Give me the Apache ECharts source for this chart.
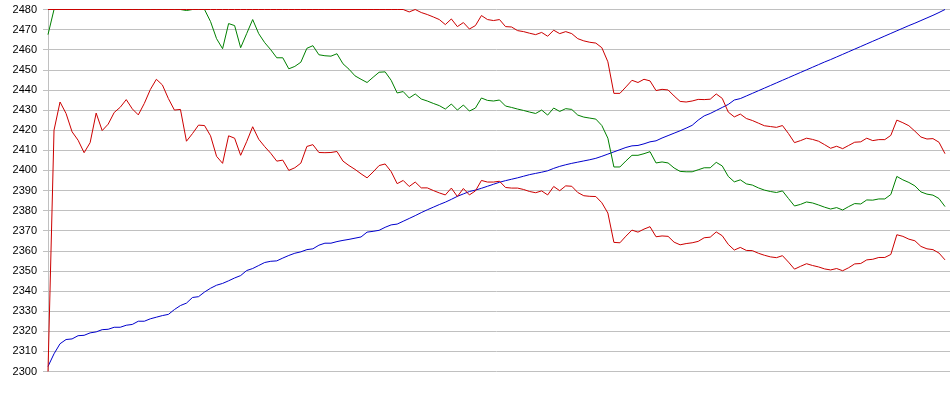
<!DOCTYPE html>
<html><head><meta charset="utf-8">
<style>html,body{margin:0;padding:0;background:#fff}#c{width:950px;height:395px}</style>
<script src="https://cdn.jsdelivr.net/npm/echarts@6/dist/echarts.min.js"></script>
</head><body><div id="c"></div>
<script>
const yTicks = {min: 2300, max: 2480, step: 10};

const green = [
2467.5,2480,2480,2480,2480,2480,2480,2480,2480,2480,
2480,2480,2480,2480,2480,2480,2480,2480,2480,2480,
2480,2480,2480,2479.5,2480,2480,2480,2474,2465.5,2460.5,
2473,2472,2461,2468,2475,2468,2463.5,2460,2456,2456,
2450.5,2451.7,2453.8,2460.7,2462,2457.5,2457,2456.8,2458,2453,
2450.3,2447,2445.3,2443.7,2446.3,2448.8,2449,2444.8,2438.5,2439.2,
2436,2438,2435.5,2434.5,2433.3,2432.2,2430.5,2433,2430,2432.5,
2429.5,2431,2436,2434.8,2434.5,2435,2432,2431.3,2430.5,2429.8,
2429,2428.3,2430,2427.5,2431,2429.3,2430.7,2430.3,2427.5,2426.5,
2426,2425.5,2422.3,2416,2401.7,2401.7,2404.7,2407.5,2407.5,2408.3,
2409.3,2403.7,2404.2,2403.7,2401.2,2399.5,2399.3,2399.3,2400.3,2401.3,
2401.3,2404,2402.2,2397,2394.3,2395.3,2393.3,2392.7,2391.3,2390.2,
2389.5,2389,2389.8,2386,2382.3,2383.1,2384.3,2383.8,2382.8,2381.7,
2380.8,2381.5,2380.3,2382,2383.5,2383.3,2385.3,2385.2,2385.8,2385.8,
2388,2397,2395.3,2394,2392.3,2389.3,2388.2,2387.7,2386,2382
];

const upperRed = [
2480,2480,2480,2480,2480,2480,2480,2480,2480,2480,
2480,2480,2480,2480,2480,2480,2480,2480,2480,2480,
2480,2480,2480,2480,2480,2480,2480,2480,2480,2480,
2480,2480,2480,2480,2480,2480,2480,2480,2480,2480,
2480,2480,2480,2480,2480,2480,2480,2480,2480,2480,
2480,2480,2480,2480,2480,2480,2480,2480,2480,2480,
2478.8,2480,2478.5,2477.5,2476.3,2475,2472.5,2475.3,2471.5,2473.5,
2470.3,2472,2477,2475,2474.5,2475,2471.5,2471.3,2469.5,2469,
2468.2,2467.5,2468.6,2466.7,2469.7,2468,2469,2468,2465.5,2464.4,
2463.7,2463.3,2461,2454,2438.3,2438.3,2441.5,2444.8,2443.7,2445.3,
2444.5,2439.7,2440.3,2440,2437,2434.3,2434,2434.5,2435.3,2435.2,
2435.4,2438,2435.8,2429,2426.6,2428,2425.8,2424.8,2423.5,2422.2,
2421.8,2421.4,2422.3,2418.3,2413.8,2414.8,2416,2415.4,2414.5,2412.8,
2411,2412,2410.8,2412.4,2414,2414.2,2416,2414.8,2415.3,2415.3,
2417.4,2425,2423.7,2422.2,2419.5,2416.6,2415.6,2415.8,2414,2408.3
];

const lowerRed = [
2300,2420,2434,2428.3,2419.2,2415,2408.8,2413.8,2428.5,2419.8,
2423,2428.8,2431.4,2435.2,2430.6,2427.6,2433.3,2440.2,2445.3,2442.5,
2435.7,2430,2430.3,2414.5,2418.3,2422.5,2422.3,2417.2,2407,2403.5,
2417.2,2416,2407.5,2414.3,2421.7,2415.5,2411.8,2408.5,2404.6,2405.1,
2400,2401.3,2403.6,2411.9,2412.8,2408.9,2408.8,2408.9,2409.4,2404.6,
2402.4,2400.5,2398.3,2396.3,2399.2,2402.4,2403.2,2399.4,2393.4,2395,
2392,2394.2,2391.3,2391.3,2390,2388.8,2387.8,2391.2,2387,2391,
2387.8,2389.8,2395,2394.2,2394.2,2394.6,2391.5,2391.2,2391.2,2390.5,
2389.5,2388.9,2389.8,2387.8,2392,2389.9,2392.3,2392.1,2389,2387.4,
2387.1,2387,2383.9,2378.8,2364.2,2364,2367.3,2370.3,2369.3,2370.8,
2372,2367,2367.4,2367.2,2364.3,2363,2363.6,2364,2364.7,2366.5,
2366.8,2369.4,2367.5,2363.2,2360.4,2361.7,2360.2,2360.1,2358.8,2357.8,
2357,2356.6,2357.6,2354.4,2350.9,2352.3,2353.6,2352.7,2352,2351,
2350.5,2351.2,2350.1,2351.6,2353.5,2353.7,2355.5,2355.8,2356.7,2356.7,
2358.2,2368,2367.2,2365.8,2365,2362.2,2361,2360.6,2358.9,2355.5
];

const blue = [
2302.5,2308.8,2313.8,2315.9,2316.2,2317.8,2318,2319.2,2319.7,2320.8,
2321,2322,2322,2323,2323.4,2325,2325,2326.2,2327,2327.8,
2328.4,2330.8,2332.8,2334,2336.8,2337.2,2339.5,2341.4,2342.9,2343.8,
2345.1,2346.5,2347.7,2350.2,2351.2,2352.7,2354.2,2354.8,2355,2356.4,
2357.7,2358.8,2359.5,2360.6,2361,2362.8,2363.8,2363.8,2364.6,2365.2,
2365.7,2366.3,2366.9,2369.3,2369.7,2370.2,2371.7,2372.9,2373.3,2374.7,
2376.1,2377.5,2379,2380.4,2381.7,2383,2384.2,2385.6,2387.1,2388.3,
2389.5,2390.2,2391.1,2392.1,2393.1,2394.1,2394.9,2395.6,2396.3,2397.1,
2397.9,2398.5,2399.1,2399.8,2401,2402,2402.8,2403.5,2404.1,2404.7,
2405.3,2406,2407,2408.1,2409.2,2410.3,2411.4,2412.2,2412.4,2413.2,
2414.2,2414.7,2416.1,2417.3,2418.5,2419.7,2421,2422.4,2425,2427.1,
2428.3,2429.8,2431.3,2432.8,2435,2435.7,2437,2438.3,2439.6,2440.9,
2442.2,2443.5,2444.8,2446.1,2447.4,2448.7,2450,2451.3,2452.6,2453.9,
2455.1,2456.4,2457.7,2459,2460.3,2461.6,2462.9,2464.2,2465.5,2466.8,
2468.1,2469.4,2470.7,2472,2473.2,2474.5,2475.8,2477.1,2478.5,2480
];

const pairs = a => a.map((v, i) => [i, v]);
const n = green.length;
const chart = echarts.init(document.getElementById('c'), null, {renderer: 'canvas'});
const mk = (data, color) => ({
  type: 'line', data: pairs(data), showSymbol: false, symbol: 'none', clip: false,
  lineStyle: {width: 1, color: color}, itemStyle: {color: color}, animation: false
});
chart.setOption({
  animation: false,
  backgroundColor: '#fff',
  grid: {left: 43, right: 0, top: 9.5, bottom: 23.5, containLabel: false},
  xAxis: {type: 'value', min: -0.83, max: (n - 1) + 0.83, show: false},
  yAxis: {
    type: 'value', min: yTicks.min, max: yTicks.max, interval: yTicks.step,
    axisLine: {show: true, lineStyle: {color: '#c0c0c0', width: 1}},
    axisTick: {show: false},
    splitLine: {show: true, lineStyle: {color: '#c0c0c0', width: 1}},
    axisLabel: {color: '#000', fontFamily: 'Liberation Sans, Arial, sans-serif', fontSize: 11, margin: 6,
      formatter: v => String(v)}
  },
  series: [
    mk(blue, '#0000cc'),
    mk(green, '#008000'),
    mk(lowerRed, '#cc0000'),
    mk(upperRed, '#cc0000')
  ]
});
</script></body></html>
